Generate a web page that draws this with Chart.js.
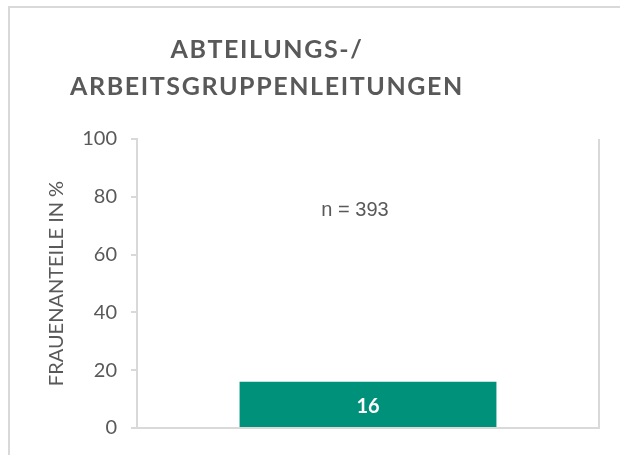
<!DOCTYPE html>
<html>
<head>
<meta charset="utf-8">
<script src="https://cdn.jsdelivr.net/npm/chart.js@4"></script>
<style>
    body { margin: 0; background: #fff; }
    #wrap { position: relative; width: 620px; height: 455px; }
</style>
</head>
<body>
<div id="wrap"><canvas id="chart" width="620" height="455"></canvas></div>
<script>
// ---- data ----
const categories = ['Abteilungs-/Arbeitsgruppenleitungen'];
const womenShare = [16];
const yMin = 0;
const yMax = 100;
const yStep = 20;
const titleLines = ['ABTEILUNGS-/', 'ARBEITSGRUPPENLEITUNGEN'];
const yAxisTitle = 'FRAUENANTEILE IN %';
const sampleNote = 'n = 393';

const GREY = '#595959';
const LINE = '#d9d9d9';
const TEAL = '#00917b';

// frame, title, note and bar label
const decorPlugin = {
    id: 'decor',
    beforeDraw(chart) {
        const ctx = chart.ctx;
        const a = chart.chartArea;
        ctx.save();
        ctx.strokeStyle = LINE;
        ctx.lineWidth = 2;
        // outer frame (cropped)
        ctx.beginPath();
        ctx.moveTo(9, 455);
        ctx.lineTo(9, 7);
        ctx.lineTo(620, 7);
        ctx.stroke();
        // right edge of plot area
        ctx.beginPath();
        ctx.moveTo(a.right, a.top);
        ctx.lineTo(a.right, a.bottom);
        ctx.stroke();
        ctx.restore();
    },
    afterDraw(chart) {
        const ctx = chart.ctx;
        ctx.save();
        // title
        ctx.fillStyle = GREY;
        ctx.textAlign = 'center';
        ctx.textBaseline = 'middle';
        ctx.font = 'bold 25px Lato';
        ctx.letterSpacing = '1.6px';
        ctx.fillText(titleLines[0], 267, 50);
        ctx.fillText(titleLines[1], 267, 87);
        ctx.letterSpacing = '0px';
        // sample size note
        ctx.font = '20px "Liberation Sans"';
        ctx.fillText(sampleNote, 355, 210);
        // value labels inside bars
        const meta = chart.getDatasetMeta(0);
        ctx.fillStyle = '#ffffff';
        ctx.font = 'bold 20px Lato';
        meta.data.forEach((bar, i) => {
            const v = chart.data.datasets[0].data[i];
            ctx.fillText(String(v), bar.x, (bar.y + bar.base) / 2 + 2);
        });
        ctx.restore();
    }
};

new Chart(document.getElementById('chart'), {
    type: 'bar',
    data: {
        labels: categories,
        datasets: [{
            data: womenShare,
            backgroundColor: TEAL,
            borderWidth: 0,
            barPercentage: 0.556,
            categoryPercentage: 1
        }]
    },
    options: {
        responsive: false,
        animation: false,
        layout: { padding: { left: 0, top: 139, right: 21, bottom: 27 } },
        plugins: {
            legend: { display: false },
            title: { display: false },
            tooltip: { enabled: false }
        },
        scales: {
            x: {
                grid: { display: false, drawTicks: false },
                ticks: { display: false },
                border: { color: LINE, width: 2 },
                afterFit(scale) { scale.height = 0; }
            },
            y: {
                min: yMin,
                max: yMax,
                ticks: {
                    stepSize: yStep,
                    color: GREY,
                    padding: 14,
                    font: { family: 'Lato', size: 20 }
                },
                grid: { drawOnChartArea: false, drawTicks: true, tickLength: 6, color: LINE, lineWidth: 2 },
                border: { color: LINE, width: 2 },
                title: {
                    display: true,
                    text: yAxisTitle,
                    color: GREY,
                    padding: { top: 45, bottom: 0 },
                    font: { family: 'Lato', size: 20 }
                },
                afterFit(scale) { scale.width = 137; }
            }
        }
    },
    plugins: [decorPlugin]
});
</script>
</body>
</html>
